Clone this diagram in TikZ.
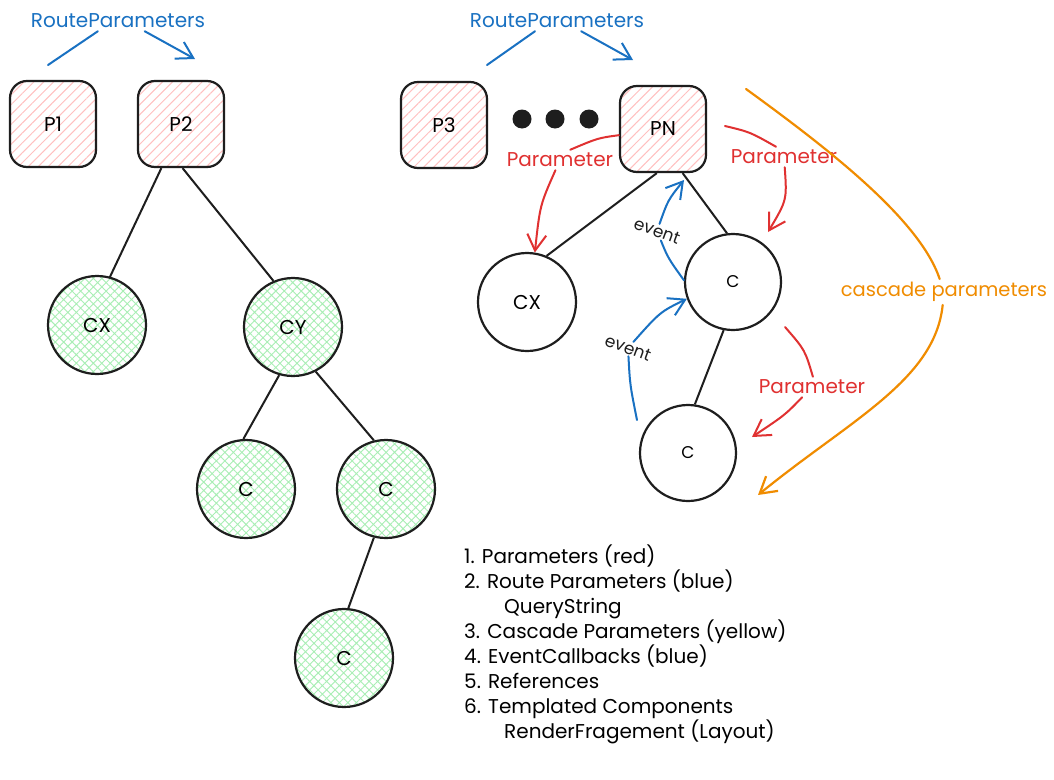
\documentclass[tikz,border=0pt]{standalone}
\usepackage{fontspec}
\setmainfont{Poppins}
\usetikzlibrary{patterns.meta,arrows.meta}
\definecolor{ink}{HTML}{1E1E1E}
\definecolor{eblue}{HTML}{1971C2}
\definecolor{ered}{HTML}{E03131}
\definecolor{eorange}{HTML}{F08C00}
\definecolor{epink}{HTML}{FFC0C0}
\definecolor{egreen}{HTML}{A8EEB4}
\begin{document}
\begin{tikzpicture}[x=1pt,y=-1pt,
  txt/.style={font=\fontsize{20}{25}\selectfont,inner sep=3pt},
  box/.style={txt,draw=ink,line width=2.2pt,rounded corners=17pt,minimum width=86pt,minimum height=86pt,
    pattern={Lines[angle=45,distance=7pt,line width=1pt]},pattern color=epink},
  circ/.style={txt,circle,draw=ink,line width=2.2pt,minimum size=98pt,inner sep=0pt},
  gcirc/.style={circ,pattern={Hatch[angle=45,distance=6pt,line width=0.9pt]},pattern color=egreen},
  dotnode/.style={circle,fill=ink,minimum size=19pt,inner sep=0pt},
  conn/.style={draw=ink,line width=2pt},
  tip/.style={-{Straight Barb[length=16pt,width=19pt]}},
  bl/.style={draw=eblue,line width=2pt,line cap=round},
  rd/.style={draw=ered,line width=2pt,line cap=round},
  og/.style={draw=eorange,line width=2.2pt,line cap=round},
  evlbl/.style={font=\fontsize{17}{21}\selectfont,inner sep=1.5pt,rotate=-20,text=ink},
]
\fill[white] (0,0) rectangle (1054,779);
\useasboundingbox (0,0) rectangle (1054,779);

% ---------- left tree ----------
\node[txt,text=eblue] (rp1) at (118,21) {RouteParameters};
\node[box] (P1) at (53,124) {P1};
\node[box] (P2) at (181,124) {P2};
\node[gcirc] (CXl) at (97,325) {CX};
\node[gcirc] (CYl) at (293,327) {CY};
\node[gcirc] (Cl1) at (246,489) {C};
\node[gcirc] (Cl2) at (386,489) {C};
\node[gcirc] (Cl3) at (344,658) {C};

\coordinate (a1) at (48,65);
\coordinate (a2) at (195,59);
\draw[bl] (rp1.207) -- (a1);
\draw[bl,tip] (rp1.339) -- (a2);

\draw[conn] (P2.246) -- (CXl.75);
\draw[conn] (P2.272) -- (CYl.113);
\draw[conn] (CYl.254) -- (Cl1.93);
\draw[conn] (CYl.297) -- (Cl2.104);
\draw[conn] (Cl2.256) -- (Cl3.85);

% ---------- right tree ----------
\node[txt,text=eblue] (rp2) at (557,21) {RouteParameters};
\node[box] (P3) at (444,125) {P3};
\node[dotnode] (d1) at (522,119) {};
\node[dotnode] (d2) at (555,119) {};
\node[dotnode] (d3) at (589,119) {};
\node[box] (PN) at (663,129) {PN};
\node[circ] (CXr) at (527,302) {CX};
\node[circ,minimum size=96pt,font=\fontsize{17}{20}\selectfont] (Cr1) at (733,282) {C};
\node[circ,minimum size=96pt,font=\fontsize{17}{20}\selectfont] (Cr2) at (688,453) {C};

\coordinate (a3) at (487,65);
\coordinate (a4) at (633,60);
\draw[bl] (rp2.205) -- (a3);
\draw[bl,tip] (rp2.337) -- (a4);

\draw[conn] (PN.262) -- (CXr.67);
\draw[conn] (PN.294) -- (Cr1.97);
\draw[conn] (Cr1.259) -- (Cr2.82);

% red parameter arrows
\node[txt,text=ered] (pl1) at (560,160) {Parameter};
\node[txt,text=ered] (pr1) at (784,157) {Parameter};
\node[txt,text=ered] (pr2) at (812,387) {Parameter};
\draw[rd] (PN.188) .. controls (598,138) .. (pl1.45);
\draw[rd,tip] (pl1) .. controls (540,205) .. (CXr.81);
\coordinate (r1) at (725,126);
\coordinate (r1e) at (768,232);
\draw[rd] (r1) .. controls (750,132) .. (pr1.128);
\draw[rd,tip] (pr1) .. controls (787,200) .. (r1e);
\coordinate (r2) at (785,327);
\coordinate (r2e) at (752,437);
\draw[rd] (r2) .. controls (805,350) .. (pr2.85);
\draw[rd,tip] (pr2) .. controls (785,415) .. (r2e);

% blue event arrows
\node[evlbl] (ev1) at (657,231) {event};
\node[evlbl] (ev2) at (628,348) {event};
\coordinate (e1) at (684,180);
\draw[bl] (Cr1.178) .. controls (668,258) .. (ev1);
\draw[bl,tip] (ev1) .. controls (668,200) .. (e1);
\coordinate (e2) at (637,420);
\draw[bl] (e2) .. controls (630,385) .. (ev2);
\draw[bl,tip] (ev2) .. controls (660,312) .. (Cr1.200);

% cascade parameters
\node[txt,text=eorange,font=\fontsize{19.5}{24}\selectfont] (casc) at (944,292) {cascade parameters};
\coordinate (o1) at (746,89);
\coordinate (o2) at (758,495);
\draw[og] (o1) .. controls (830,150) and (920,220) .. (casc);
\draw[og,tip] (casc) .. controls (935,380) and (850,420) .. (o2);

% ---------- list ----------
\node[txt,anchor=north west,align=left,inner sep=0pt] (list) at (464,545) {%
1. Parameters (red)\\
2. Route Parameters (blue)\\
\hspace*{40pt}QueryString\\
3. Cascade Parameters (yellow)\\
4. EventCallbacks (blue)\\
5. References\\
6. Templated Components\\
\hspace*{40pt}RenderFragement (Layout)};
\end{tikzpicture}
\end{document}
